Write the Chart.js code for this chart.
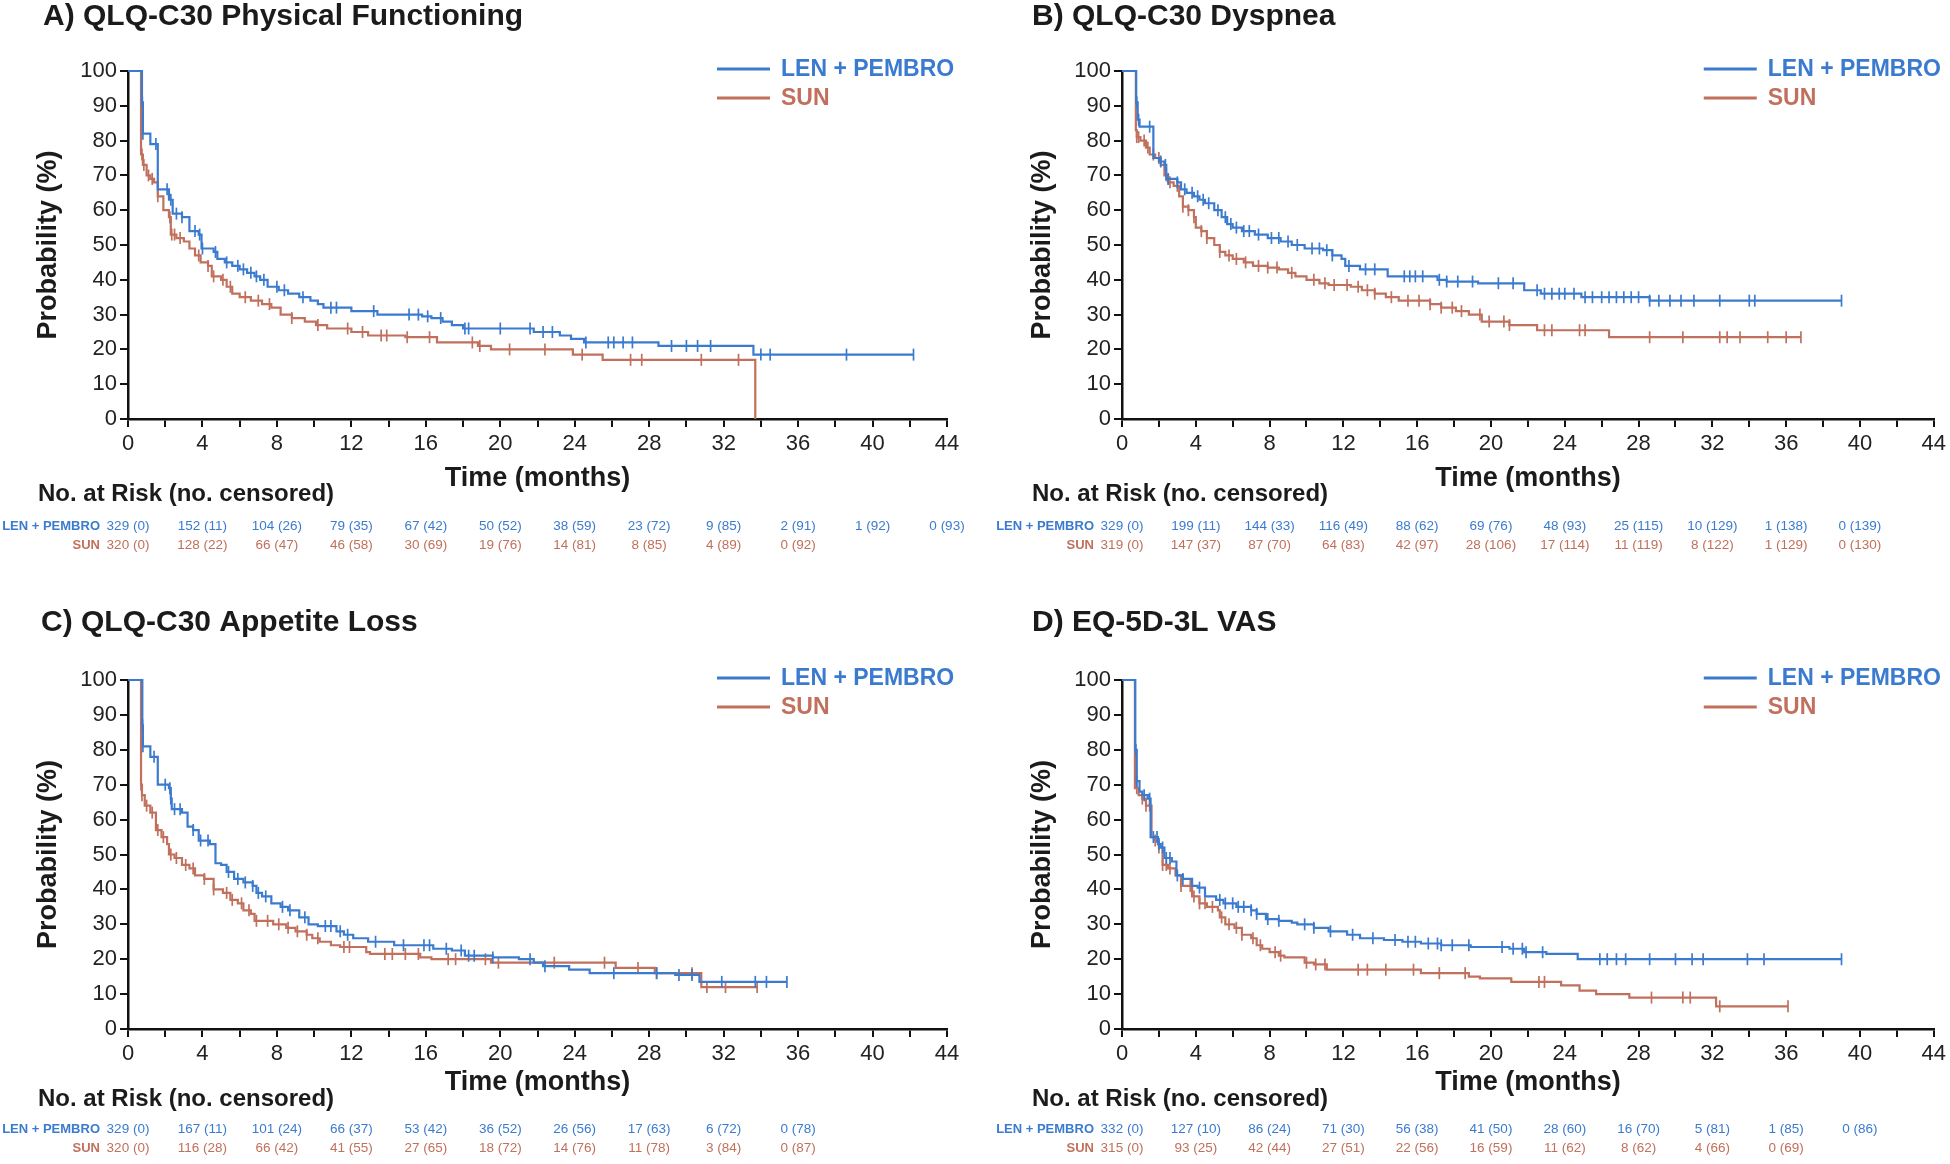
<!DOCTYPE html>
<html>
<head>
<meta charset="utf-8">
<script src="https://cdn.jsdelivr.net/npm/chart.js@4/dist/chart.umd.min.js"></script>
<style>
	body { margin: 0; background: #fff; width: 1950px; height: 1164px; overflow: hidden; position: relative; }
	.panel { position: absolute; width: 975px; height: 582px; }
</style>
</head>
<body>
<div class="panel" style="left:0;top:0"><canvas id="chartA"></canvas></div>
<div class="panel" style="left:975px;top:0"><canvas id="chartB"></canvas></div>
<div class="panel" style="left:0;top:582px"><canvas id="chartC"></canvas></div>
<div class="panel" style="left:975px;top:582px"><canvas id="chartD"></canvas></div>
<script>
const FONT = '"Liberation Sans", Arial, sans-serif';
const BLUE = "#3b7bcf";
const RED = "#c0705c";

const riskMonths = [0, 4, 8, 12, 16, 20, 24, 28, 32, 36, 40, 44];

// A) physical functioning: [month, probability] at each drop
const aLenSteps = [[0,100],[0.75,91],[0.8,82],[1.2,79],[1.6,66],[2.2,63],[2.4,59],[2.9,58],[3.3,54],[3.8,53],[3.95,49],[4.6,48],[4.8,46],[5.2,45],[5.6,44],[6.0,43],[6.4,42],[6.8,41],[7.1,40],[7.5,38],[8.1,37],[8.6,36],[9.2,35],[9.8,34],[10.2,33],[10.5,32],[12.0,31],[13.4,30],[15.8,29.5],[16.3,29],[16.9,28],[17.4,27],[18.0,26],[21.8,25],[23.2,24],[23.8,23],[24.5,22],[28.5,21],[33.6,18.5],[42.2,18.5]];
const aSunSteps = [[0,100],[0.7,76],[0.8,73],[1.0,70],[1.2,69],[1.4,68],[1.6,64],[1.9,60],[2.2,58],[2.3,53],[2.6,52],[3.0,51],[3.3,49],[3.6,47],[3.9,45],[4.3,44],[4.5,41],[5.0,40],[5.3,38],[5.6,36],[6.0,35],[6.6,34],[7.2,33],[7.7,32],[8.2,30],[8.8,29],[9.5,28],[10.1,27],[10.7,26],[12.0,25],[12.9,24],[14.9,23.5],[16.6,22],[18.8,21],[19.5,20],[23.9,18.5],[25.5,17],[33.7,0]];
const aLenCens = [0.77,0.8,1.5,2.1,2.3,2.6,2.9,3.6,3.85,4.0,4.7,5.3,5.9,6.2,6.6,6.9,7.3,8.0,8.4,9.4,10.9,11.2,13.2,15.1,15.6,16.1,16.8,18.1,18.3,20.0,21.6,22.3,22.8,24.6,25.8,26.1,26.6,27.1,29.2,30.0,30.6,31.3,34.0,34.5,38.6,42.2];
const aSunCens = [0.75,0.85,1.1,1.3,1.6,2.25,2.35,2.5,2.8,3.8,4.3,4.6,5.1,5.5,6.3,7.0,7.6,8.8,10.2,11.8,12.6,13.6,13.9,15.0,16.2,18.5,18.9,20.5,22.4,24.4,27.0,27.6,30.8,32.8];
const aLenRisk = ["329 (0)","152 (11)","104 (26)","79 (35)","67 (42)","50 (52)","38 (59)","23 (72)","9 (85)","2 (91)","1 (92)","0 (93)"];
const aSunRisk = ["320 (0)","128 (22)","66 (47)","46 (58)","30 (69)","19 (76)","14 (81)","8 (85)","4 (89)","0 (92)"];

// B) dyspnea
const bLenSteps = [[0,100],[0.77,91],[0.85,86],[0.95,84],[1.7,75],[2.0,74],[2.3,73],[2.4,69],[3.0,68],[3.2,66],[3.5,65],[3.9,64],[4.2,63],[4.5,62],[5.0,60],[5.4,58],[5.7,56],[6.0,55],[6.5,54],[7.2,53],[7.9,52],[8.6,51],[9.2,50],[9.9,49],[10.9,48.5],[11.4,47],[11.9,46],[12.1,44],[12.9,43],[14.4,41],[17.1,40],[17.6,39.5],[19.3,39],[21.8,37],[22.7,36],[24.9,35],[28.6,34],[39.0,34]];
const bSunSteps = [[0,100],[0.75,83],[0.8,81],[1.0,80],[1.3,78],[1.5,76],[1.8,75],[2.1,73],[2.3,70],[2.5,68],[2.8,67],[3.1,64],[3.3,61],[3.6,60],[3.9,58],[4.0,55],[4.3,54],[4.6,52],[5.0,50],[5.3,48],[5.6,47],[6.0,46],[6.6,45],[7.1,44],[7.9,43.5],[8.5,43],[9.0,42],[9.4,41],[10.0,40],[10.7,39],[11.2,38.5],[12.4,38],[13.0,37],[13.7,36],[14.3,35],[15.0,34],[16.7,33],[17.3,32],[18.1,31],[18.8,30],[19.5,28],[21.0,27],[22.5,25.5],[26.4,23.5],[36.8,23.5]];
const bLenCens = [0.8,0.9,1.5,2.1,2.35,2.5,3.0,3.4,3.8,4.1,4.4,4.7,5.2,5.6,5.9,6.2,6.6,6.9,7.4,8.1,8.5,9.0,9.5,10.3,10.7,11.1,11.4,12.3,13.2,13.7,15.3,15.6,15.9,16.3,17.2,17.6,18.2,19.0,20.4,21.2,22.5,22.9,23.3,23.7,24.0,24.5,25.1,25.5,26.0,26.4,26.8,27.2,27.6,28.0,28.6,29.1,29.7,30.3,31.0,32.4,34.0,34.3,39.0];
const bSunCens = [0.8,0.9,1.2,1.4,1.7,2.0,2.4,2.6,3.0,3.3,3.6,3.9,4.3,4.6,5.3,5.8,6.2,6.7,7.4,7.9,8.4,9.2,10.4,11.0,11.5,12.2,12.8,13.3,13.7,14.6,15.5,16.1,16.7,17.3,17.9,18.4,19.4,19.9,20.7,21.0,22.9,23.3,24.8,25.1,28.6,30.4,32.4,32.8,33.5,35.0,36.0,36.8];
const bLenRisk = ["329 (0)","199 (11)","144 (33)","116 (49)","88 (62)","69 (76)","48 (93)","25 (115)","10 (129)","1 (138)","0 (139)"];
const bSunRisk = ["319 (0)","147 (37)","87 (70)","64 (83)","42 (97)","28 (106)","17 (114)","11 (119)","8 (122)","1 (129)","0 (130)"];

// C) appetite loss
const cLenSteps = [[0,100],[0.77,87],[0.8,81],[1.2,78],[1.6,70],[2.2,69],[2.3,66],[2.35,63],[2.9,62],[3.2,58],[3.5,57],[3.8,54],[4.4,53],[4.7,47.5],[5.0,47],[5.3,45],[5.7,43],[6.2,42],[6.7,41],[6.9,39],[7.2,38],[7.7,36],[8.2,35],[8.6,34],[9.2,32],[9.7,30],[10.2,29.5],[11.2,28],[11.6,27],[12.1,26],[12.9,25],[14.3,24],[16.4,23],[17.4,22.5],[18.1,21],[19.6,20.5],[21.0,20],[21.8,19],[22.3,18],[23.7,17],[24.8,16],[29.4,15.5],[30.7,13.5],[35.4,13.5]];
const cSunSteps = [[0,100],[0.7,70],[0.75,67],[0.9,64],[1.2,62],[1.5,57],[1.8,55],[2.1,53],[2.2,50],[2.5,49],[2.9,47],[3.3,46],[3.6,44],[4.1,43],[4.6,40],[5.1,39],[5.5,37],[5.9,36],[6.2,34],[6.6,33],[6.8,31],[7.8,30],[8.5,29],[9.0,28],[9.6,27],[9.9,26],[10.3,25],[10.9,24],[11.4,23.5],[12.8,22],[13.0,21.5],[15.7,20.5],[16.3,20],[19.5,19],[26.2,17.5],[28.3,16],[30.8,12],[33.8,12]];
const cLenCens = [0.78,0.8,1.4,2.0,2.25,2.3,2.5,2.8,3.5,3.9,4.3,5.4,5.9,6.3,6.7,7.0,7.4,8.3,8.7,9.5,10.6,10.9,11.4,11.8,13.3,14.8,15.9,16.2,17.1,17.9,18.3,18.6,19.6,21.6,22.4,26.1,28.4,29.6,30.3,31.9,33.7,34.3,35.4];
const cSunCens = [0.7,0.75,1.0,1.3,1.6,1.9,2.3,2.6,3.1,3.5,4.1,4.6,5.3,5.6,6.1,6.5,6.9,7.5,8.1,8.6,9.1,9.6,10.2,11.6,11.9,13.8,14.2,14.9,15.6,17.2,17.6,19.2,19.9,22.9,25.6,27.4,28.4,30.3,31.1,32.1,33.8];
const cLenRisk = ["329 (0)","167 (11)","101 (24)","66 (37)","53 (42)","36 (52)","26 (56)","17 (63)","6 (72)","0 (78)"];
const cSunRisk = ["320 (0)","116 (28)","66 (42)","41 (55)","27 (65)","18 (72)","14 (76)","11 (78)","3 (84)","0 (87)"];

// D) EQ-5D-3L VAS
const dLenSteps = [[0,100],[0.72,80],[0.8,71],[0.95,68],[1.1,67],[1.4,66],[1.55,55],[1.95,53],[2.1,52],[2.3,49],[2.7,48],[2.95,44],[3.3,43],[3.8,41],[4.1,40.5],[4.5,38],[5.1,37],[5.5,36],[6.2,35],[7.0,34],[7.3,33],[7.8,31.5],[8.5,31],[9.2,30.5],[9.5,30],[10.4,29],[11.2,28],[12.2,27],[12.9,26],[14.2,25.5],[15.2,25],[16.2,24.5],[17.3,24],[18.9,23.5],[21.0,23],[21.8,22],[23.0,21.5],[24.7,20],[39.0,20]];
const dSunSteps = [[0,100],[0.7,69],[0.9,67],[1.1,66],[1.3,64],[1.6,55],[1.8,54],[2.0,52],[2.2,47],[2.5,46],[2.9,44],[3.2,41],[3.8,38],[4.2,36],[4.6,35],[5.2,34],[5.3,32],[5.6,30],[6.1,29],[6.5,27],[7.0,26],[7.3,24],[7.6,23],[8.0,22],[8.5,21],[8.8,20.5],[9.9,19],[10.4,18.5],[11.1,17],[16.2,16],[18.8,15],[19.4,14.5],[21.1,13.5],[23.8,12.5],[24.8,11],[25.7,10],[27.5,9],[32.2,6.5],[36.1,6.5]];
const dLenCens = [0.75,0.8,1.2,1.5,1.7,1.9,2.0,2.2,2.4,2.6,3.0,3.3,4.2,5.3,5.6,6.0,6.3,6.6,7.0,7.3,7.9,8.5,9.9,10.4,11.3,12.5,13.6,14.8,15.5,15.9,16.6,17.1,17.3,17.9,18.8,20.6,21.2,21.7,21.9,22.8,25.9,26.3,26.8,27.3,28.6,30.0,30.9,31.5,33.9,34.8,39.0];
const dSunCens = [0.8,1.1,1.3,1.5,1.8,2.0,2.2,2.4,2.6,3.2,3.7,3.9,4.2,4.5,4.9,5.4,5.8,6.2,6.5,7.1,7.5,8.3,8.6,10.0,10.5,11.0,12.8,13.3,14.3,15.8,17.2,18.6,22.6,22.9,28.7,30.4,30.8,32.4,36.1];
const dLenRisk = ["332 (0)","127 (10)","86 (24)","71 (30)","56 (38)","41 (50)","28 (60)","16 (70)","5 (81)","1 (85)","0 (86)"];
const dSunRisk = ["315 (0)","93 (25)","42 (44)","27 (51)","22 (56)","16 (59)","11 (62)","8 (62)","4 (66)","0 (69)"];

const toPoints = steps => steps.map(([x, y]) => ({ x, y }));

// censor tick sits on the curve: value of the step in force at that month
const onCurve = (steps, times) =>
	times.map(t => {
		let y = steps[0][1];
		for (const [sx, sy] of steps) if (sx <= t) y = sy;
		return { x: t, y };
	});

const decor = (lay, title, lenRisk, sunRisk) => ({
	id: "decor",
	afterDraw(chart) {
		const { ctx, chartArea: ca, scales } = chart;
		ctx.save();
		ctx.textBaseline = "middle";

		ctx.textAlign = "left";
		ctx.fillStyle = "#1b1b1b";
		ctx.font = `bold 30px ${FONT}`;
		ctx.fillText(title, lay.titleX, lay.titleY);

		// legend
		[[BLUE, "LEN + PEMBRO", -2], [RED, "SUN", 27]].forEach(([c, text, dy]) => {
			const y = ca.top + dy;
			ctx.strokeStyle = c;
			ctx.lineWidth = 3;
			ctx.beginPath();
			ctx.moveTo(ca.right - 230, y);
			ctx.lineTo(ca.right - 177, y);
			ctx.stroke();
			ctx.fillStyle = c;
			ctx.font = `bold 23px ${FONT}`;
			ctx.fillText(text, ca.right - 166, y + 1);
		});

		// number at risk table
		ctx.fillStyle = "#1b1b1b";
		ctx.font = `bold 24px ${FONT}`;
		ctx.fillText("No. at Risk (no. censored)", ca.left - 90, ca.bottom + lay.rows[0]);
		[[lenRisk, BLUE, "LEN + PEMBRO", lay.rows[1]], [sunRisk, RED, "SUN", lay.rows[2]]].forEach(([vals, c, label, dy]) => {
			const y = ca.bottom + dy;
			ctx.fillStyle = c;
			ctx.textAlign = "right";
			ctx.font = `bold 13px ${FONT}`;
			ctx.fillText(label, ca.left - 28, y);
			ctx.textAlign = "center";
			ctx.font = `13.5px ${FONT}`;
			vals.forEach((v, i) => ctx.fillText(v, scales.x.getPixelForValue(riskMonths[i]), y));
		});
		ctx.restore();
	},
});

const axisFont = { family: FONT, size: 22 };
const titleFont = { family: FONT, size: 27, weight: "bold" };

const makeChart = (id, lay, title, lenSteps, lenCens, sunSteps, sunCens, lenRisk, sunRisk) => {
	const W = 975, H = 582;
	const censored = (steps, times, color) => ({
		data: onCurve(steps, times),
		showLine: false,
		pointStyle: "line",
		rotation: 90,
		pointRadius: 6,
		pointBorderWidth: 1.7,
		pointBorderColor: color,
		borderColor: color,
		clip: false,
	});
	const curve = (label, steps, color) => ({
		label,
		data: toPoints(steps),
		stepped: true,
		borderColor: color,
		borderWidth: 2.2,
		pointRadius: 0,
		clip: false,
	});
	return new Chart(document.getElementById(id), {
		type: "line",
		data: {
			datasets: [
				curve("LEN + PEMBRO", lenSteps, BLUE),
				censored(lenSteps, lenCens, BLUE),
				curve("SUN", sunSteps, RED),
				censored(sunSteps, sunCens, RED),
			],
		},
		options: {
			responsive: true,
			maintainAspectRatio: false,
			animation: false,
			events: [],
			layout: { padding: { left: 0, top: lay.t, right: W - lay.r, bottom: 0 } },
			plugins: { legend: { display: false }, tooltip: { enabled: false } },
			scales: {
				x: {
					type: "linear",
					min: 0,
					max: 44,
					afterFit: s => { s.height = H - lay.b; },
					ticks: {
						stepSize: 2,
						autoSkip: false,
						maxRotation: 0,
						padding: 4,
						color: "#222",
						font: axisFont,
						callback: v => (v % 4 === 0 ? v : ""),
					},
					grid: { drawOnChartArea: false, tickLength: 8, color: "#111", lineWidth: 2 },
					border: { color: "#111", width: 2.5 },
					title: {
						display: true,
						text: "Time (months)",
						color: "#1b1b1b",
						font: titleFont,
						padding: { top: 0, bottom: H - lay.b - lay.timeOff - 16 },
					},
				},
				y: {
					min: 0,
					max: 100,
					afterFit: s => { s.width = lay.l; },
					ticks: { stepSize: 10, padding: 3, color: "#222", font: axisFont },
					grid: { drawOnChartArea: false, tickLength: 8, color: "#111", lineWidth: 2 },
					border: { color: "#111", width: 2.5 },
					title: {
						display: true,
						text: "Probability (%)",
						color: "#1b1b1b",
						font: titleFont,
						padding: { top: lay.l - 96, bottom: 0 },
					},
				},
			},
		},
		plugins: [decor(lay, title, lenRisk, sunRisk)],
	});
};

const topRow = { t: 71, b: 419, rows: [75, 107, 126], timeOff: 60, titleY: 17 };
const bottomRow = { t: 98, b: 447, rows: [70, 100, 119], timeOff: 54, titleY: 41 };

makeChart("chartA", { ...topRow, l: 128, r: 947, titleX: 43 }, "A) QLQ-C30 Physical Functioning",
	aLenSteps, aLenCens, aSunSteps, aSunCens, aLenRisk, aSunRisk);
makeChart("chartB", { ...topRow, l: 147, r: 963, titleX: 57 }, "B) QLQ-C30 Dyspnea",
	bLenSteps, bLenCens, bSunSteps, bSunCens, bLenRisk, bSunRisk);
makeChart("chartC", { ...bottomRow, l: 128, r: 947, titleX: 41 }, "C) QLQ-C30 Appetite Loss",
	cLenSteps, cLenCens, cSunSteps, cSunCens, cLenRisk, cSunRisk);
makeChart("chartD", { ...bottomRow, l: 147, r: 963, titleX: 57 }, "D) EQ-5D-3L VAS",
	dLenSteps, dLenCens, dSunSteps, dSunCens, dLenRisk, dSunRisk);
</script>
</body>
</html>
